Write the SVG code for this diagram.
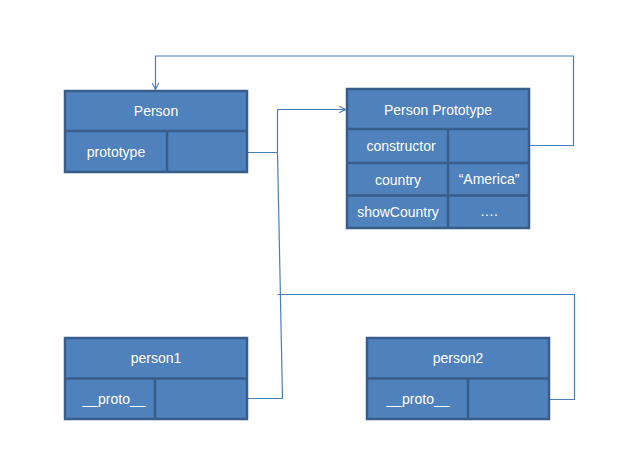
<svg xmlns="http://www.w3.org/2000/svg" width="634" height="473" viewBox="0 0 634 473">
<defs>
<style>
.box{fill:#4F81BD;stroke:#385D8A;stroke-width:2.5}
.div{stroke:#385D8A;stroke-width:2.5;fill:none}
.t{font-family:"Liberation Sans",Arial,sans-serif;font-size:14px;fill:#FFFFFF;text-anchor:middle}
.c{fill:none;stroke:#4A7EBB;stroke-width:1.2}
</style>
<marker id="arr" viewBox="0 0 10 10" refX="9" refY="5" markerWidth="8" markerHeight="8" markerUnits="userSpaceOnUse" orient="auto">
<path d="M1,1 L9,5 L1,9" fill="none" stroke="#4A7EBB" stroke-width="1.4"/>
</marker>
</defs>
<rect width="634" height="473" fill="#FFFFFF"/>
<g id="connectors">
<path class="c" d="M529,145.5 H573.5 V56 H155.5 V89.5" marker-end="url(#arr)"/>
<path class="c" d="M247,152.5 H277.5 V109.5 H345.5" marker-end="url(#arr)"/>
<path class="c" d="M277.5,152.5 L282.5,398.5 H247"/>
<path class="c" d="M277.5,294.5 H574.5 V399.5 H549"/>
</g>
<g id="person">
<rect class="box" x="65" y="91" width="182" height="81"/>
<line class="div" x1="65" y1="131" x2="247" y2="131"/>
<line class="div" x1="167" y1="131" x2="167" y2="172"/>
<text class="t" x="156" y="116">Person</text>
<text class="t" x="116" y="157">prototype</text>
</g>
<g id="person-prototype">
<rect class="box" x="347" y="89" width="182" height="139"/>
<line class="div" x1="347" y1="129" x2="529" y2="129"/>
<line class="div" x1="347" y1="163" x2="529" y2="163" stroke-width="3.5"/>
<line class="div" x1="347" y1="195.5" x2="529" y2="195.5" stroke-width="3"/>
<line class="div" x1="448" y1="129" x2="448" y2="228"/>
<text class="t" x="438" y="115">Person Prototype</text>
<text class="t" x="401" y="151">constructor</text>
<text class="t" x="398" y="185">country</text>
<text class="t" x="489" y="184">“America”</text>
<text class="t" x="398" y="217">showCountry</text>
<text class="t" x="489" y="216">….</text>
</g>
<g id="person1">
<rect class="box" x="65" y="338" width="182" height="81"/>
<line class="div" x1="65" y1="378.5" x2="247" y2="378.5"/>
<line class="div" x1="155" y1="378.5" x2="155" y2="419"/>
<text class="t" x="156" y="363">person1</text>
<text class="t" x="114" y="404">__proto__</text>
</g>
<g id="person2">
<rect class="box" x="367" y="338" width="182" height="81"/>
<line class="div" x1="367" y1="378.5" x2="549" y2="378.5"/>
<line class="div" x1="468" y1="378.5" x2="468" y2="419"/>
<text class="t" x="458" y="363">person2</text>
<text class="t" x="418" y="404">__proto__</text>
</g>
</svg>
